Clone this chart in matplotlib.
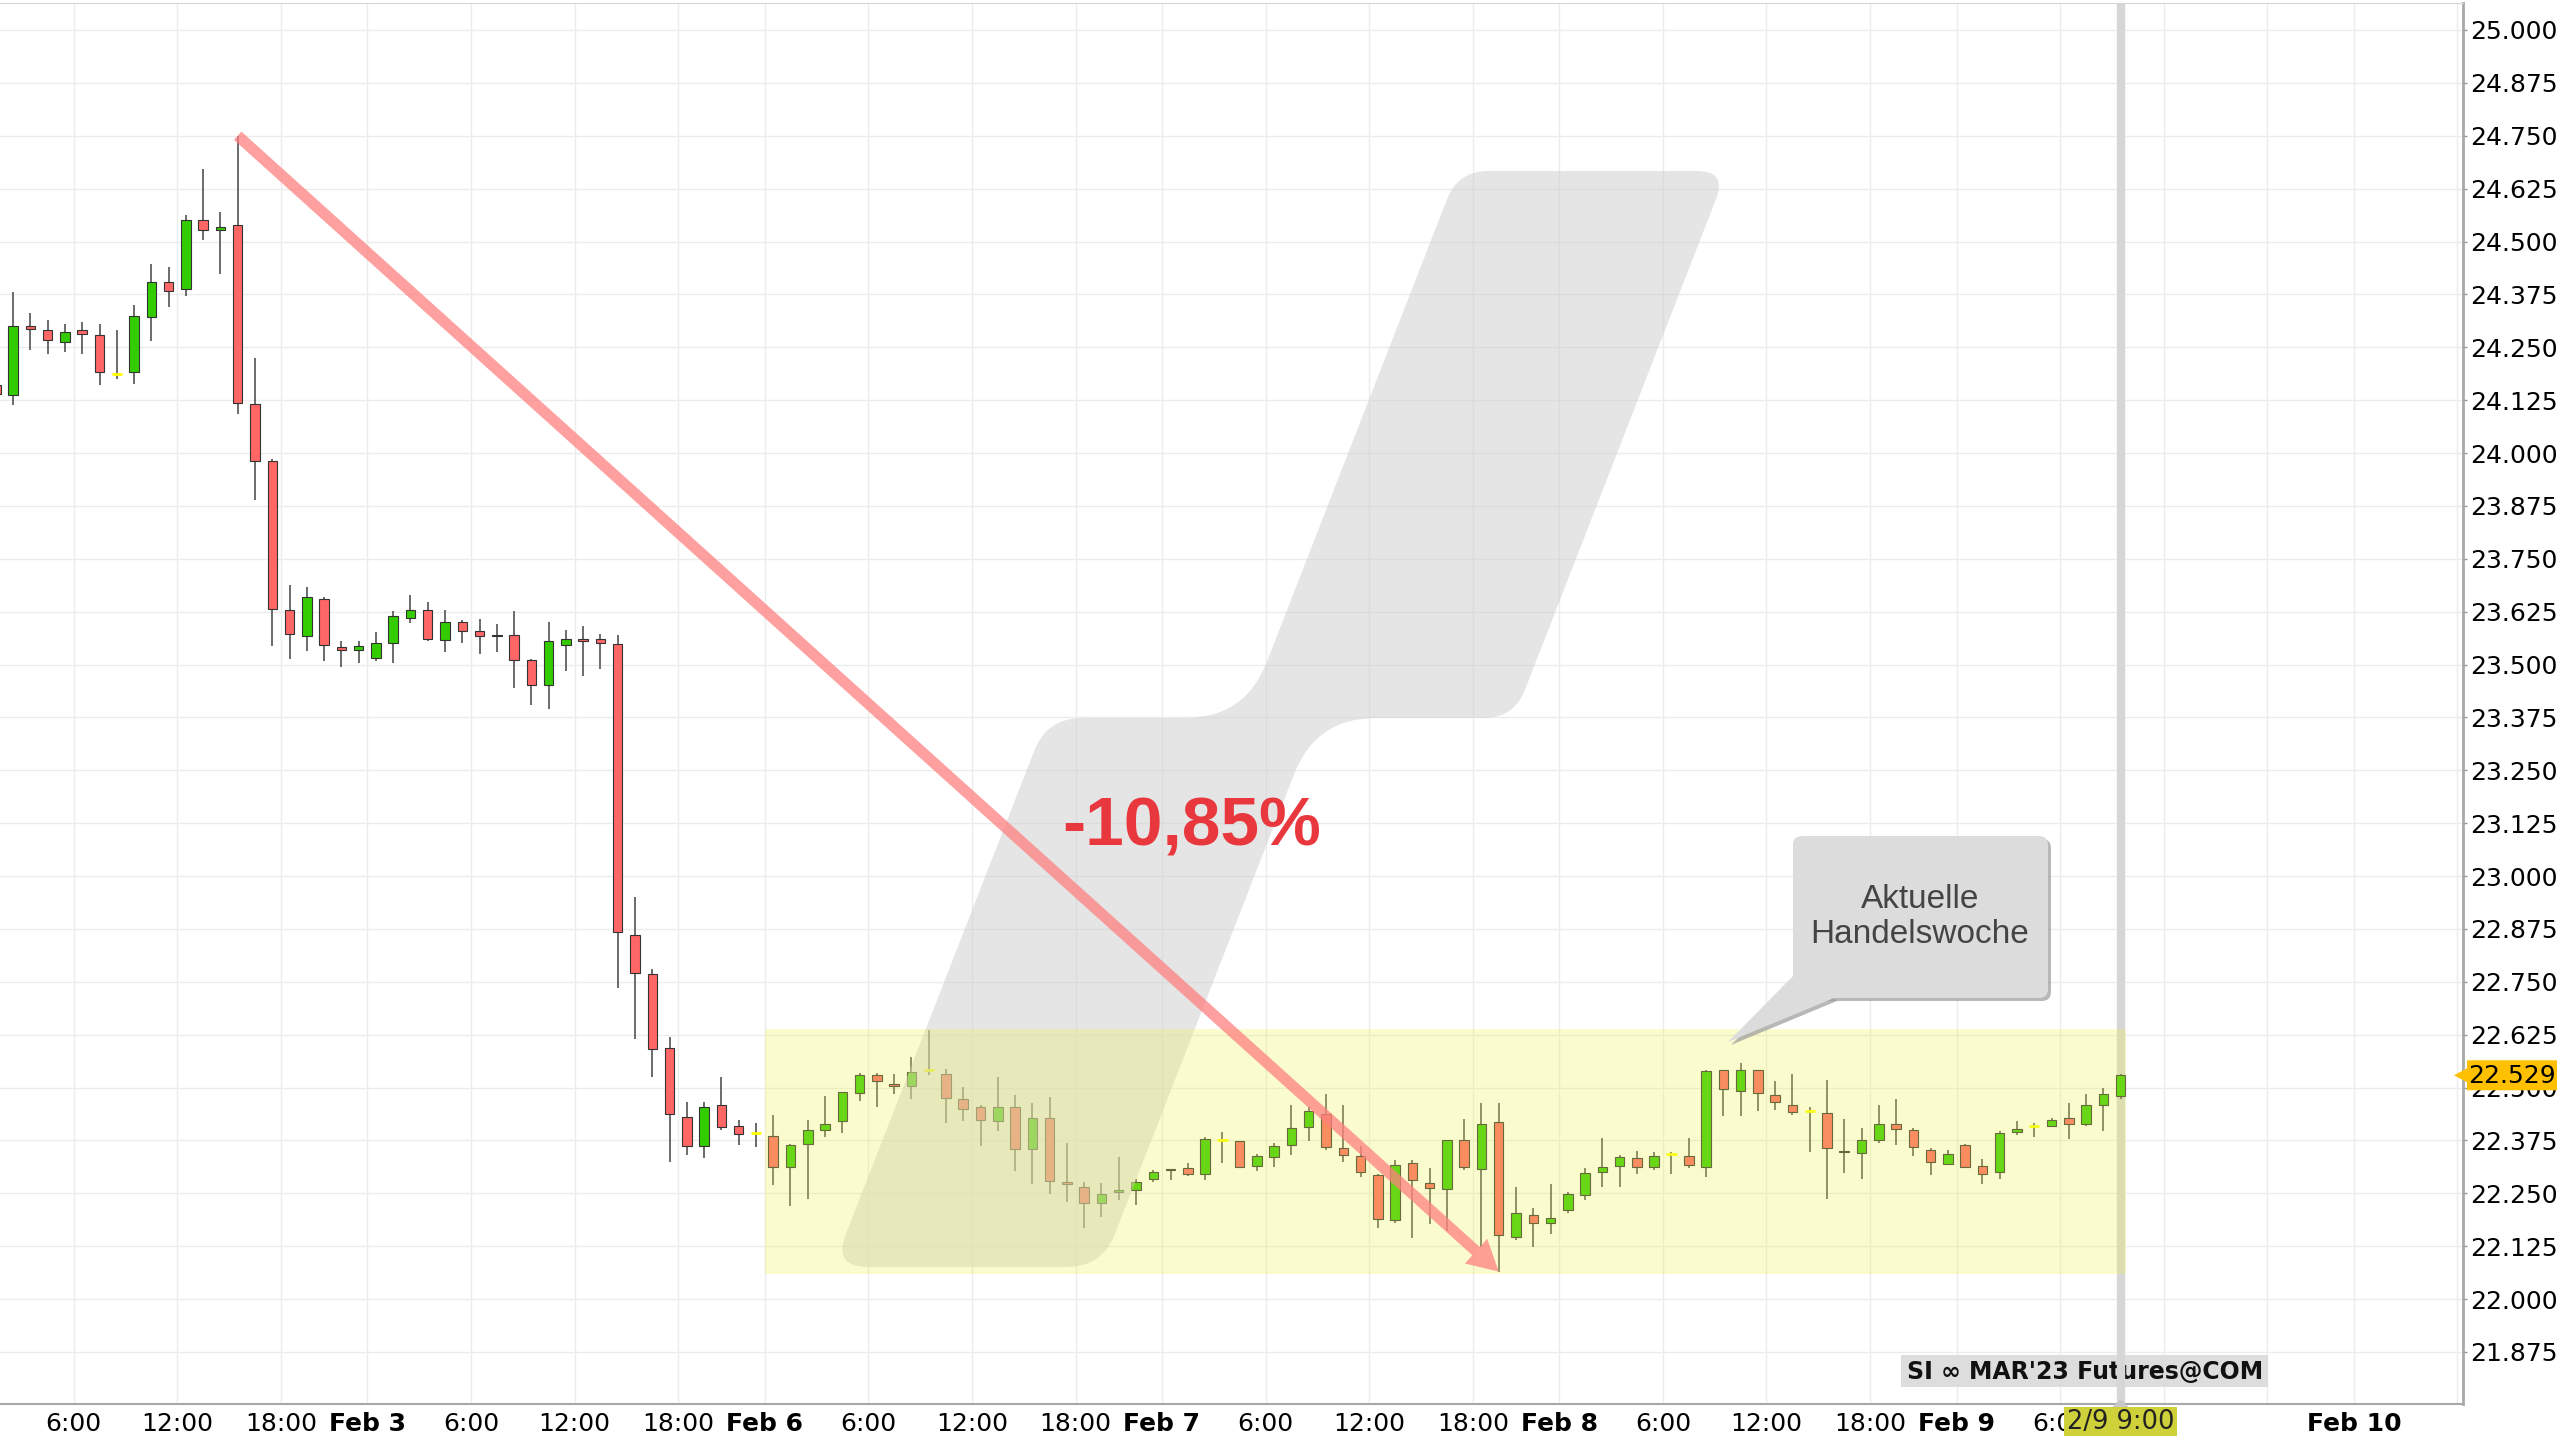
#                       SI MAR'23 - gráfico de velas (1h)

#Recria o gráfico de velas horárias da prata (SI, Comex) com as anotações.




#----------------------------Importando bibliotecas----------------------------
import numpy as np
import matplotlib
matplotlib.use("Agg")  #sem display
import matplotlib.pyplot as plt
from matplotlib.path import Path
from matplotlib.patches import PathPatch, Polygon, Rectangle, FancyBboxPatch, FancyArrowPatch, ArrowStyle
from matplotlib.transforms import Affine2D




#----------------------------Dados----------------------------
dias = ["Feb 2", "Feb 3", "Feb 6", "Feb 7", "Feb 8", "Feb 9", "Feb 10"]  #dias de negociação no eixo
horas_rotulo = [6, 12, 18]  #rótulos intermediários de cada dia
horas_por_dia = 23  #sessão com pausa de 1h (23:00 CET)
primeira_hora = 1  #primeira vela: Feb 2 1:00
rotulo_atual = "2/9 9:00"
instrumento = "SI \u221e MAR'23 Futures@COM"
nota = "Aktuelle\nHandelswoche"

opens = [
    # Feb 2 (1:00 - 22:00)
    24.160, 24.137, 24.300, 24.291, 24.262, 24.291, 24.280, 24.186, 24.192, 24.321, 24.405,
    24.388, 24.550, 24.528, 24.539, 24.115, 23.980, 23.630, 23.567, 23.655, 23.541, 23.535,
    # Feb 3
    23.516, 23.551, 23.611, 23.630, 23.557, 23.600, 23.579, 23.567, 23.570, 23.510, 23.452, 23.546,
    23.561, 23.561, 23.549, 22.860, 22.769, 22.594, 22.430, 22.362, 22.459, 22.410, 22.393,
    # Feb 6
    22.386, 22.312, 22.366, 22.400, 22.421, 22.486, 22.529, 22.508, 22.504, 22.541, 22.532, 22.473,
    22.455, 22.421, 22.455, 22.354, 22.429, 22.277, 22.264, 22.226, 22.253, 22.258, 22.283,
    # Feb 7
    22.304, 22.310, 22.295, 22.377, 22.374, 22.314, 22.335, 22.365, 22.406, 22.438, 22.358, 22.338,
    22.294, 22.186, 22.322, 22.274, 22.261, 22.375, 22.307, 22.419, 22.147, 22.198, 22.181,
    # Feb 8
    22.211, 22.245, 22.301, 22.315, 22.334, 22.312, 22.344, 22.339, 22.312, 22.542, 22.491, 22.542,
    22.483, 22.458, 22.444, 22.439, 22.349, 22.346, 22.377, 22.414, 22.399, 22.353, 22.320,
    # Feb 9 (0:00 - 9:00)
    22.364, 22.314, 22.301, 22.394, 22.409, 22.410, 22.428, 22.414, 22.458, 22.480,
]
highs = [
    24.180, 24.381, 24.330, 24.314, 24.306, 24.310, 24.306, 24.290, 24.350, 24.446, 24.440,
    24.562, 24.671, 24.570, 24.750, 24.225, 23.985, 23.689, 23.684, 23.660, 23.556, 23.555,
    23.576, 23.627, 23.665, 23.649, 23.630, 23.606, 23.608, 23.595, 23.627, 23.512, 23.600, 23.581,
    23.590, 23.572, 23.569, 22.950, 22.780, 22.619, 22.465, 22.465, 22.525, 22.424, 22.416,
    22.435, 22.366, 22.424, 22.481, 22.490, 22.534, 22.534, 22.531, 22.572, 22.635, 22.543, 22.502,
    22.459, 22.524, 22.482, 22.463, 22.478, 22.369, 22.277, 22.274, 22.335, 22.283, 22.306,
    22.308, 22.321, 22.383, 22.395, 22.374, 22.343, 22.369, 22.458, 22.455, 22.484, 22.459, 22.362,
    22.296, 22.329, 22.328, 22.311, 22.375, 22.425, 22.464, 22.464, 22.266, 22.216, 22.271,
    22.254, 22.309, 22.380, 22.340, 22.350, 22.348, 22.348, 22.380, 22.542, 22.542, 22.558, 22.542,
    22.515, 22.531, 22.454, 22.519, 22.425, 22.405, 22.458, 22.474, 22.405, 22.358, 22.352,
    22.366, 22.330, 22.397, 22.421, 22.417, 22.428, 22.464, 22.484, 22.498, 22.532,
]
lows = [
    24.120, 24.114, 24.244, 24.235, 24.239, 24.235, 24.161, 24.174, 24.164, 24.265, 24.344,
    24.370, 24.504, 24.424, 24.093, 23.890, 23.544, 23.513, 23.533, 23.509, 23.495, 23.504,
    23.509, 23.504, 23.599, 23.556, 23.530, 23.550, 23.525, 23.530, 23.445, 23.405, 23.395, 23.485,
    23.474, 23.490, 22.735, 22.614, 22.525, 22.324, 22.340, 22.334, 22.400, 22.364, 22.359,
    22.270, 22.220, 22.236, 22.384, 22.392, 22.469, 22.455, 22.484, 22.472, 22.530, 22.417, 22.421,
    22.362, 22.398, 22.303, 22.272, 22.248, 22.229, 22.169, 22.195, 22.234, 22.223, 22.277,
    22.281, 22.291, 22.282, 22.321, 22.309, 22.303, 22.312, 22.341, 22.374, 22.352, 22.323, 22.289,
    22.167, 22.180, 22.144, 22.178, 22.161, 22.304, 22.124, 22.065, 22.139, 22.124, 22.155,
    22.204, 22.234, 22.265, 22.265, 22.295, 22.304, 22.295, 22.309, 22.289, 22.432, 22.432, 22.444,
    22.448, 22.434, 22.348, 22.236, 22.299, 22.285, 22.370, 22.364, 22.338, 22.293, 22.318,
    22.311, 22.273, 22.283, 22.388, 22.384, 22.409, 22.379, 22.409, 22.397, 22.472,
]
closes = [
    24.140, 24.300, 24.292, 24.267, 24.285, 24.282, 24.192, 24.186, 24.325, 24.405, 24.383,
    24.550, 24.528, 24.534, 24.118, 23.982, 23.631, 23.572, 23.660, 23.547, 23.535, 23.545,
    23.550, 23.614, 23.630, 23.561, 23.600, 23.580, 23.567, 23.570, 23.511, 23.452, 23.555, 23.560,
    23.556, 23.552, 22.868, 22.771, 22.591, 22.437, 22.362, 22.455, 22.407, 22.390, 22.393,
    22.312, 22.364, 22.399, 22.414, 22.490, 22.530, 22.515, 22.503, 22.537, 22.541, 22.475, 22.450,
    22.424, 22.455, 22.354, 22.429, 22.280, 22.271, 22.226, 22.248, 22.257, 22.276, 22.300,
    22.308, 22.295, 22.378, 22.377, 22.312, 22.338, 22.362, 22.404, 22.444, 22.360, 22.341, 22.300,
    22.190, 22.316, 22.281, 22.262, 22.375, 22.312, 22.415, 22.151, 22.204, 22.181, 22.191,
    22.249, 22.299, 22.313, 22.335, 22.312, 22.339, 22.344, 22.316, 22.538, 22.497, 22.542, 22.486,
    22.465, 22.442, 22.444, 22.356, 22.347, 22.375, 22.414, 22.401, 22.360, 22.325, 22.344,
    22.312, 22.296, 22.393, 22.403, 22.409, 22.423, 22.415, 22.458, 22.484, 22.529,
]




#----------------------------Figura----------------------------
W, H = 2560, 1441
fig = plt.figure(figsize=(W / 100, H / 100), dpi=100)
ax = fig.add_axes([0, 1 - 1404 / H, 2463 / W, (1404 - 2.7) / H])
px = Affine2D().scale(1.0 / W, -1.0 / H).translate(0, 1) + fig.transFigure  #coordenadas em pixels (y para baixo)

o = np.array(opens)
h = np.array(highs)
l = np.array(lows)
c = np.array(closes)
x = primeira_hora + np.arange(len(o)) + 0.5  #centro de cada vela

sobe = c > o
desce = c < o
doji = c == o




#----------------------------Eixos (antes de tudo, para fixar a escala)----------------------------
pos_ticks, rot_ticks, negrito = [], [], []
for d, nome in enumerate(dias):
    base = d * horas_por_dia
    pos_ticks.append(base)
    rot_ticks.append(nome)
    negrito.append(True)
    for hr in horas_rotulo:
        pos_ticks.append(base + hr)
        rot_ticks.append(f"{hr}:00" if base + hr < x[-1] else "")  #sem rótulo no futuro
        negrito.append(False)
ax.set_xticks(pos_ticks, rot_ticks)
for t, b in zip(ax.get_xticklabels(), negrito):
    if b:
        t.set_fontweight("bold")

yt = np.arange(21.875, 25.0001, 0.125)
ax.set_yticks(yt, [f"{v:.3f}" for v in yt])

#set_xticks expande os limites, então os limites vêm depois
ax.set_xlim(1.739, 144.32)
ax.set_ylim(21.752, 25.0645)
ax.set_autoscale_on(False)

ax.yaxis.tick_right()
ax.tick_params(axis="x", length=0, pad=6, labelsize=18, colors="#000000")
ax.tick_params(axis="y", length=3, width=1, color="#999999", pad=2, labelsize=18, labelcolor="#000000")

ax.grid(True, color="#ececec", lw=1)
ax.set_axisbelow(True)
ax.spines["left"].set_visible(False)
ax.spines["top"].set_color("#d6d6d6")
ax.spines["right"].set_color("#a8a8a8")
ax.spines["right"].set_linewidth(2)
ax.spines["bottom"].set_color("#a8a8a8")
ax.spines["bottom"].set_linewidth(1.5)




#----------------------------Velas----------------------------
ax.vlines(x, l, h, color="#444444", lw=1.1, zorder=2)
ax.bar(x[sobe], (c - o)[sobe], bottom=o[sobe], width=0.55, color="#33cc00",
       edgecolor="#333333", lw=0.8, zorder=2.1)
ax.bar(x[desce], (o - c)[desce], bottom=c[desce], width=0.55, color="#ff6666",
       edgecolor="#333333", lw=0.8, zorder=2.1)
ax.hlines(c[doji], x[doji] - 0.3, x[doji] + 0.3, color="#ffff00", lw=2, zorder=2.2)




#----------------------------Marca d'água (forma cinza)----------------------------
def caminho_arredondado(pts, raios):
    verts, codes = [], []
    n = len(pts)
    for i in range(n):
        p0, p1, p2 = np.array(pts[i - 1], float), np.array(pts[i], float), np.array(pts[(i + 1) % n], float)
        a = p1 + (p0 - p1) / np.linalg.norm(p0 - p1) * raios[i]
        b = p1 + (p2 - p1) / np.linalg.norm(p2 - p1) * raios[i]
        verts.append(a)
        codes.append(Path.MOVETO if i == 0 else Path.LINETO)
        verts += [p1, b]
        codes += [Path.CURVE3, Path.CURVE3]
    verts.append(verts[0])
    codes.append(Path.CLOSEPOLY)
    return Path(verts, codes)

forma = [(1458, 171), (1727, 171), (1514, 718), (1316, 718),
         (1102, 1267), (833, 1267), (1047, 718), (1245, 718)]
raios = [30, 30, 30, 60, 35, 35, 35, 60]
ax.add_patch(PathPatch(caminho_arredondado(forma, raios), transform=px,
                       facecolor="#cdcdcd", edgecolor="none", alpha=0.5, zorder=2.5))




#----------------------------Semana atual (faixa amarela)----------------------------
semana_ini = 2 * horas_por_dia  #Feb 6 0:00
semana_fim = x[-1] + 0.3
ax.add_patch(Rectangle((semana_ini, 22.060), semana_fim - semana_ini, 22.639 - 22.060,
                       facecolor=(238 / 255, 245 / 255, 80 / 255), alpha=0.28, lw=0, zorder=3))




#----------------------------Seta da queda----------------------------
i_max = int(np.argmax(h))
i_min = int(np.argmin(l))
seta = FancyArrowPatch((x[i_max], h[i_max]), (x[i_min], l[i_min]),
                       arrowstyle=ArrowStyle.Simple(head_length=1.1, head_width=1.2, tail_width=0.4),
                       mutation_scale=20, color="#ff8080", alpha=0.75, lw=0,
                       shrinkA=0, shrinkB=0, zorder=4)
ax.add_patch(seta)

queda = (l[i_min] / h[i_max] - 1) * 100
ax.text(1192, 827, f"{queda:.2f}%".replace(".", ","), transform=px, ha="center", va="center",
        fontsize=50, fontweight="bold", color="#e8383d", family="Liberation Sans", zorder=5)




#----------------------------Balão "Aktuelle Handelswoche"----------------------------
for dx, cor, alfa, z in [(3, "#9a9a9a", 0.7, 5.5), (0, "#dcdcdc", 1.0, 6)]:
    ax.add_patch(FancyBboxPatch((1793 + dx, 836 + dx), 255, 162, boxstyle="round,pad=0,rounding_size=9",
                                transform=px, facecolor=cor, edgecolor="none", alpha=alfa, zorder=z))
    ax.add_patch(Polygon([(1797 + dx, 972 + dx), (1728 + dx, 1042 + dx), (1834 + dx, 998 + dx)],
                         closed=True, transform=px, facecolor=cor, edgecolor="none", alpha=alfa, zorder=z))
ax.text(1920, 917, nota, transform=px, ha="center", va="center", fontsize=24,
        color="#444444", family="Liberation Sans", linespacing=1.2, zorder=7)




#----------------------------Linha da hora atual + rótulo do instrumento----------------------------
ax.add_patch(Rectangle((1901, 1355), 367, 32, transform=px, facecolor="#dddddd", lw=0, zorder=1.5))
ax.text(1907, 1372, instrumento, transform=px, ha="left", va="center", fontsize=17,
        fontweight="bold", color="#111111", zorder=1.6)
ax.axvline(x[-1], color="#d6d6d6", lw=6, zorder=1.8)




#----------------------------Rótulos fora do gráfico----------------------------
x_atual = ax.transData.transform((x[-1], 0))[0]  #pixel da última vela
fig.add_artist(Polygon([(x_atual - 8, 1407), (x_atual + 8, 1407), (x_atual, 1399)],
                       closed=True, transform=px, facecolor="#c8c8c8", lw=0))
fig.add_artist(Rectangle((x_atual - 57, 1407), 113, 29, transform=px, facecolor="#cfd13a", lw=0))
fig.text(x_atual, 1422, rotulo_atual, transform=px, ha="center", va="center", fontsize=18.5, color="#222222")

y_preco = H - ax.transData.transform((0, c[-1]))[1]  #pixel do último fechamento
fig.add_artist(Polygon([(2454, y_preco), (2467, y_preco - 7), (2467, y_preco - 15), (2557, y_preco - 15),
                        (2557, y_preco + 15), (2467, y_preco + 15), (2467, y_preco + 7)],
                       closed=True, transform=px, facecolor="#ffc000", lw=0))
fig.text(2512, y_preco + 0.5, f"{c[-1]:.3f}", transform=px, ha="center", va="center", fontsize=18, color="#000000")

fig.savefig("out.png", dpi=100)
